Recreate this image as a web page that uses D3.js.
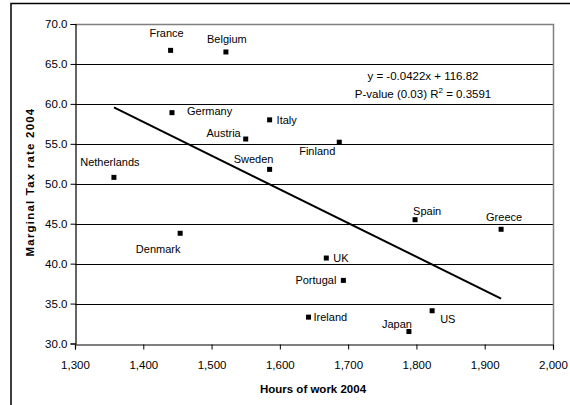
<!DOCTYPE html>
<html><head><meta charset="utf-8">
<script src="https://cdn.jsdelivr.net/npm/d3@7"></script>
<style>body{margin:0;background:#fff}svg{display:block;font-family:"Liberation Sans",Arial,sans-serif}</style>
</head><body><svg id="c" width="570" height="405"></svg>
<script>
const countries = ["France","Belgium","Germany","Italy","Austria","Sweden","Netherlands","Finland","Denmark","Spain","Greece","UK","Portugal","Ireland","US","Japan"];
const hours = [1440,1521,1442,1585,1550,1585,1357,1687,1454,1798,1924,1668,1693,1642,1823,1789];
const taxRate = [66.7,66.5,58.9,58.0,55.6,51.8,50.8,55.2,43.8,45.5,44.3,40.7,37.9,33.3,34.1,31.5];
const xTicks = [1300,1400,1500,1600,1700,1800,1900,2000];
const yTicks = [30,35,40,45,50,55,60,65,70];
const slope = -0.0422, intercept = 116.82;
const eqLines = ["y = -0.0422x + 116.82","P-value (0.03) R\u00b2 = 0.3591"];
// label placement: [dx, dy, anchor]
const labelPos = {
  France:[-4,-13,"middle"], Belgium:[1,-9,"middle"], Germany:[15,2,"start"], Italy:[7,4,"start"],
  Austria:[-5,-2,"end"], Sweden:[-16,-6,"middle"], Netherlands:[-4,-11,"middle"], Finland:[-4,13,"end"],
  Denmark:[-22,20,"middle"], Spain:[-2,-5,"start"], Greece:[3,-8,"middle"], UK:[7,4,"start"],
  Portugal:[-7,4,"end"], Ireland:[5,4,"start"], US:[8,12,"start"], Japan:[-12,-4,"middle"]
};

const svg = d3.select("#c");
const x = d3.scaleLinear().domain([1300,2000]).range([75,553]);
const y = d3.scaleLinear().domain([30,70]).range([343.5,24]);

// outer frame
svg.append("path").attr("d","M11,410 V3.5 H575").attr("fill","none").attr("stroke","#000").attr("stroke-width",1.5);

// gridlines
svg.append("g").selectAll("line").data(yTicks.filter(d=>d>30&&d<70)).join("line")
  .attr("x1",75).attr("x2",553).attr("y1",d=>Math.round(y(d))+0.5).attr("y2",d=>Math.round(y(d))+0.5)
  .attr("stroke","#000").attr("stroke-width",1);
// plot border top/right gray
svg.append("path").attr("d",`M75,${Math.round(y(70))+0.5} H553.5 V${Math.round(y(30))}`).attr("fill","none").attr("stroke","#808080").attr("stroke-width",1.5);

// axes
const yAxis = d3.axisLeft(y).tickValues(yTicks).tickFormat(d3.format(".1f")).tickSize(5).tickPadding(3);
const gy = svg.append("g").attr("transform","translate(75.5,0)").call(yAxis);
const xAxis = d3.axisBottom(x).tickValues(xTicks).tickFormat(d3.format(",")).tickSize(5).tickPadding(11);
const gx = svg.append("g").attr("transform",`translate(0,${Math.round(y(30))+0.5})`).call(xAxis);
[gx,gy].forEach(g=>{
  g.selectAll("path.domain").attr("stroke","#000").attr("stroke-width",1.2);
  g.selectAll(".tick line").attr("stroke","#000");
  g.selectAll("text").attr("font-size",11.5).attr("fill","#000").attr("font-family","Liberation Sans, Arial, sans-serif");
});
gy.selectAll(".tick line").attr("stroke","#000");

// trendline
const xmin = d3.min(hours), xmax = d3.max(hours);
svg.append("line").attr("x1",x(xmin)).attr("y1",y(slope*xmin+intercept))
  .attr("x2",x(xmax)).attr("y2",y(slope*xmax+intercept)).attr("stroke","#000").attr("stroke-width",2);

// points
const pts = countries.map((c,i)=>({c,h:hours[i],t:taxRate[i]}));
svg.append("g").selectAll("rect").data(pts).join("rect")
  .attr("x",d=>x(d.h)-2.5).attr("y",d=>y(d.t)-2.5).attr("width",5).attr("height",5).attr("fill","#000");
svg.append("g").selectAll("text").data(pts).join("text")
  .attr("x",d=>x(d.h)+labelPos[d.c][0]).attr("y",d=>y(d.t)+labelPos[d.c][1])
  .attr("text-anchor",d=>labelPos[d.c][2]).attr("font-size",11).attr("fill","#000").text(d=>d.c);

// equation
const eq = svg.append("g");
eq.append("text").attr("x",423).attr("y",80).attr("text-anchor","middle").attr("font-size",11.5).text(eqLines[0]);
const t2 = eq.append("text").attr("x",423).attr("y",98).attr("text-anchor","middle").attr("font-size",11.5);
t2.append("tspan").text("P-value (0.03) R");
t2.append("tspan").attr("font-size",8).attr("dy",-5).text("2");
t2.append("tspan").attr("dy",5).text(" = 0.3591");

// axis titles
svg.append("text").attr("x",313).attr("y",393).attr("text-anchor","middle").attr("font-size",11.5).attr("font-weight","bold").text("Hours of work 2004");
svg.append("text").attr("transform","translate(34,182) rotate(-90)").attr("text-anchor","middle")
  .attr("font-size",11.5).attr("font-weight","bold").attr("letter-spacing",1.2).text("Marginal Tax rate 2004");
</script></body></html>
